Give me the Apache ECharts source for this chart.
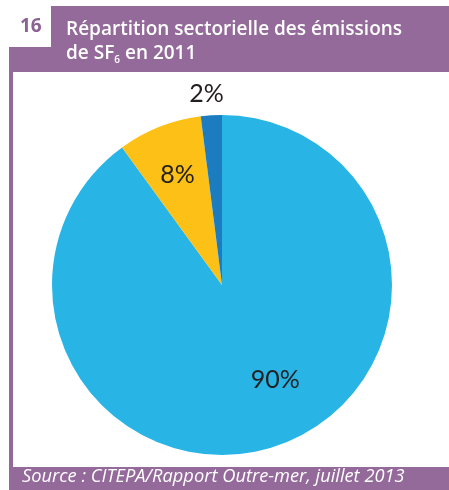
<!DOCTYPE html>
<html>
<head>
<meta charset="utf-8">
<style>
  html, body { margin: 0; padding: 0; background: #ffffff; }
  #chart { width: 449px; height: 490px; }
</style>
<script src="https://cdn.jsdelivr.net/npm/echarts@6/dist/echarts.min.js"></script>
</head>
<body>
<div id="chart"></div>
<script>
// Sector shares of SF6 emissions, 2011 (percent)
const sectors = ['Secteur principal', 'Second secteur', 'Autres'];
const shares = [90, 8, 2];
const sliceColors = ['#28b4e5', '#fcc016', '#1b7dc0'];
// label nudges relative to the slice's inner anchor point
const labelShift = [[26, 11], [-12, -28], [-10, -103]];

const purple = '#946a9b';

const chart = echarts.init(document.getElementById('chart'), null, { renderer: 'canvas' });

const option = {
  animation: false,
  backgroundColor: '#ffffff',
  graphic: [
    // header band with stepped left edge
    { type: 'rect', shape: { x: 51, y: 6, width: 398, height: 66 }, style: { fill: purple }, silent: true },
    { type: 'rect', shape: { x: 9, y: 47, width: 60, height: 25 }, style: { fill: purple }, silent: true },
    // left frame stripe
    { type: 'rect', shape: { x: 9, y: 72, width: 4, height: 395 }, style: { fill: purple }, silent: true },
    // footer band
    { type: 'rect', shape: { x: 9, y: 467, width: 440, height: 23 }, style: { fill: purple }, silent: true },
    // figure number
    { type: 'text', left: 20, top: 17, silent: true,
      style: { text: '16', fill: '#8c6293', font: 'bold 19px "Open Sans", sans-serif' } },
    // title
    { type: 'text', left: 66, top: 18, silent: true,
      style: {
        text: 'Répartition sectorielle des émissions\nde SF{sub|6} en 2011',
        fill: '#ffffff',
        font: '600 19px "Open Sans", sans-serif',
        lineHeight: 24,
        rich: {
          sub: { fill: '#ffffff', fontSize: 10, fontWeight: 600, fontFamily: 'Open Sans', padding: [12, 0, 0, 0], lineHeight: 24 }
        }
      } },
    // source note
    { type: 'text', left: 22, top: 468, silent: true,
      style: { text: 'Source : CITEPA/Rapport Outre-mer, juillet 2013', fill: '#ffffff',
               font: 'italic 18.3px "Open Sans", sans-serif' } }
  ],
  series: [{
    type: 'pie',
    center: [222, 285],
    radius: 170,
    startAngle: 90,
    clockwise: true,
    silent: true,
    avoidLabelOverlap: false,
    label: {
      show: true,
      position: 'inside',
      formatter: '{c}%',
      color: '#231f20',
      fontFamily: 'Lato, sans-serif',
      fontWeight: 400,
      fontSize: 25
    },
    labelLine: { show: false },
    labelLayout: function (params) {
      const s = labelShift[params.dataIndex];
      return { dx: s[0], dy: s[1] };
    },
    itemStyle: { borderWidth: 0 },
    data: sectors.map((name, i) => ({ name: name, value: shares[i], itemStyle: { color: sliceColors[i] } }))
  }]
};

chart.setOption(option);
</script>
</body>
</html>
